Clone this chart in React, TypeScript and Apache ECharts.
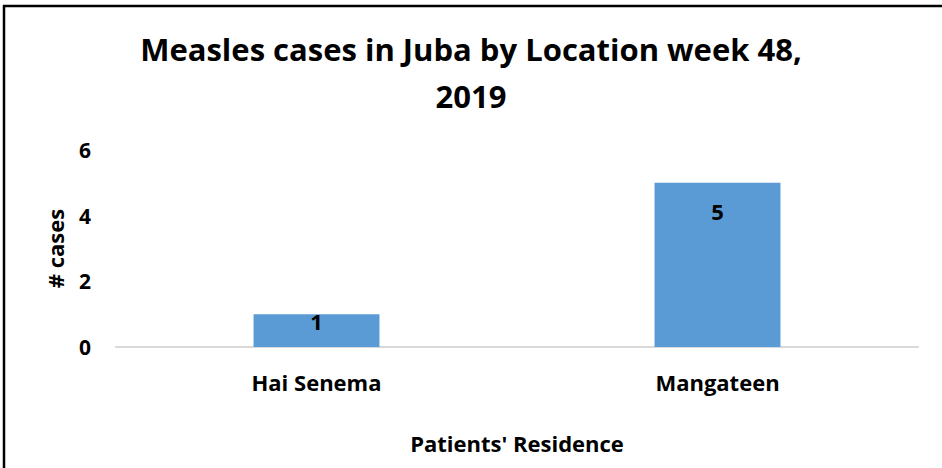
import React, { useEffect, useRef } from "react";
import * as echarts from "echarts";

const categories = ["Hai Senema", "Mangateen"];
const cases = [1, 5];
const labelDistances = [-4, 17];
const titleText = "Measles cases in Juba by Location week 48,\n2019";
const xName = "Patients' Residence";
const yName = "# cases";

const FONT = "'Open Sans', sans-serif";

export default function App() {
  const ref = useRef<HTMLDivElement>(null);
  useEffect(() => {
    if (!ref.current) return;
    const chart = echarts.init(ref.current, undefined, { renderer: "svg" });
    chart.setOption({
      animation: false,
      backgroundColor: "#ffffff",
      title: {
        text: titleText,
        left: "center",
        top: 20,
        textStyle: {
          fontFamily: FONT,
          fontWeight: "bold",
          fontSize: 31,
          lineHeight: 47,
          color: "#000",
        },
      },
      graphic: [
        { type: "line", shape: { x1: 3, y1: 6, x2: 942, y2: 6 }, style: { stroke: "#000", lineWidth: 2.5 } },
        { type: "line", shape: { x1: 4, y1: 5, x2: 4, y2: 468 }, style: { stroke: "#000", lineWidth: 2.5 } },
      ],
      grid: { left: 116, right: 24, top: 150, bottom: 121, containLabel: false },
      xAxis: {
        type: "category",
        data: categories,
        axisLine: { lineStyle: { color: "#d9d9d9", width: 2 } },
        axisTick: { show: false },
        axisLabel: {
          fontFamily: FONT,
          fontWeight: "bold",
          fontSize: 22,
          color: "#000",
          margin: 24,
        },
        name: xName,
        nameLocation: "middle",
        nameGap: 85,
        nameTextStyle: { fontFamily: FONT, fontWeight: "bold", fontSize: 22, color: "#000" },
      },
      yAxis: {
        type: "value",
        min: 0,
        max: 6,
        interval: 2,
        axisLine: { show: false },
        axisTick: { show: false },
        splitLine: { show: false },
        axisLabel: {
          fontFamily: FONT,
          fontWeight: "bold",
          fontSize: 21,
          color: "#000",
          margin: 25,
        },
        name: yName,
        nameLocation: "middle",
        nameGap: 50,
        nameRotate: 90,
        nameTextStyle: { fontFamily: FONT, fontWeight: "bold", fontSize: 22, color: "#000" },
      },
      series: [
        {
          type: "bar",
          data: cases.map((v, i) => ({
            value: v,
            label: { distance: labelDistances[i] },
          })),
          barWidth: "31.4%",
          itemStyle: { color: "#5b9bd5" },
          label: {
            show: true,
            position: "insideTop",
            fontFamily: FONT,
            fontWeight: "bold",
            fontSize: 22,
            color: "#000",
          },
        },
      ],
    });
    return () => chart.dispose();
  }, []);
  return <div ref={ref} style={{ width: 942, height: 468, position: "fixed", left: 0, top: 0 }} />;
}
